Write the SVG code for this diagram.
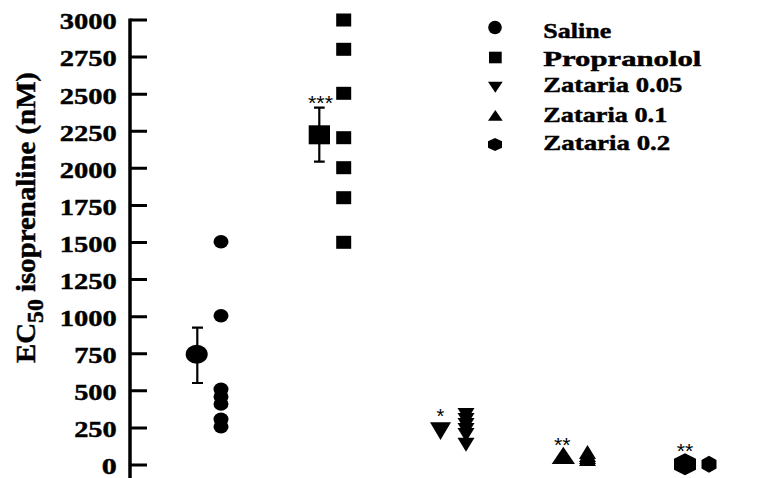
<svg xmlns="http://www.w3.org/2000/svg" width="760" height="478" viewBox="0 0 760 478">
<style>
.t{font-family:"Liberation Serif","Times New Roman",serif;font-weight:bold;fill:#000;stroke:#000;stroke-width:0.45}
.tick{font-size:24px;text-anchor:end}
.leg{font-size:22px}
.star{font-family:"Liberation Sans",Arial,sans-serif;font-size:20px;text-anchor:middle;fill:#000}
.ax{stroke:#000;stroke-width:3.5;fill:none}
.tk{stroke:#000;stroke-width:3;fill:none}
.eb{stroke:#000;stroke-width:2.2;fill:none}
.m{fill:#000;stroke:none}
</style>
<rect width="760" height="478" fill="#fff"/>
<g id="axis">
<line class="ax" x1="130" y1="18.5" x2="130" y2="478"/>
<path class="tk" d="M130 20H147M130 57.1H147M130 94.2H147M130 131.25H147M130 168.3H147M130 205.4H147M130 242.5H147M130 279.6H147M130 316.7H147M130 353.75H147M130 390.8H147M130 427.9H147M130 465H147"/>
</g>
<g id="tick-labels" class="t tick">
<text x="116.7" y="29.3" textLength="57" lengthAdjust="spacingAndGlyphs">3000</text>
<text x="116.7" y="66.4" textLength="57" lengthAdjust="spacingAndGlyphs">2750</text>
<text x="116.7" y="103.5" textLength="57" lengthAdjust="spacingAndGlyphs">2500</text>
<text x="116.7" y="140.5" textLength="57" lengthAdjust="spacingAndGlyphs">2250</text>
<text x="116.7" y="177.6" textLength="57" lengthAdjust="spacingAndGlyphs">2000</text>
<text x="116.7" y="214.7" textLength="57" lengthAdjust="spacingAndGlyphs">1750</text>
<text x="116.7" y="251.8" textLength="57" lengthAdjust="spacingAndGlyphs">1500</text>
<text x="116.7" y="288.9" textLength="57" lengthAdjust="spacingAndGlyphs">1250</text>
<text x="116.7" y="326" textLength="57" lengthAdjust="spacingAndGlyphs">1000</text>
<text x="116.7" y="363" textLength="42.5" lengthAdjust="spacingAndGlyphs">750</text>
<text x="116.7" y="400.1" textLength="42.5" lengthAdjust="spacingAndGlyphs">500</text>
<text x="116.7" y="437.2" textLength="42.5" lengthAdjust="spacingAndGlyphs">250</text>
<text x="116.7" y="474.3" textLength="15" lengthAdjust="spacingAndGlyphs">0</text>
</g>
<g id="y-label">
<text class="t" transform="translate(35,363) rotate(-90)" font-size="28" textLength="291" lengthAdjust="spacingAndGlyphs">EC<tspan dy="8" font-size="23">50</tspan><tspan dy="-8"> isoprenaline (nM)</tspan></text>
</g>
<g id="saline">
<path class="eb" d="M197.3 327.7V383M192 327.7H203M192 383H203"/>
<ellipse class="m" cx="196.7" cy="354.3" rx="11" ry="9.5"/>
<ellipse class="m" cx="221" cy="241.7" rx="7.5" ry="6.7"/>
<ellipse class="m" cx="221" cy="315.7" rx="7.5" ry="6.7"/>
<ellipse class="m" cx="221" cy="389.3" rx="7.5" ry="6.7"/>
<ellipse class="m" cx="221" cy="396.7" rx="7.5" ry="6.7"/>
<ellipse class="m" cx="221" cy="404" rx="7.5" ry="6.7"/>
<ellipse class="m" cx="221" cy="419.3" rx="7.5" ry="6.7"/>
<ellipse class="m" cx="221" cy="426.7" rx="7.5" ry="6.7"/>
</g>
<g id="propranolol">
<path class="eb" d="M319.3 107.7V161.7M314 107.7H324.7M314 161.7H324.7"/>
<rect class="m" x="308.7" y="125.3" width="21.3" height="19"/>
<text class="star" x="320.5" y="109.5" textLength="25" lengthAdjust="spacingAndGlyphs">***</text>
<rect class="m" x="336.2" y="13.5" width="15" height="13"/>
<rect class="m" x="336.2" y="42.8" width="15" height="13"/>
<rect class="m" x="336.2" y="86.8" width="15" height="13"/>
<rect class="m" x="336.2" y="131.2" width="15" height="13"/>
<rect class="m" x="336.2" y="161.2" width="15" height="13"/>
<rect class="m" x="336.2" y="191.2" width="15" height="13"/>
<rect class="m" x="336.2" y="235.8" width="15" height="13"/>
</g>
<g id="zataria-005">
<polygon class="m" points="430,422.3 451,422.3 440.5,440"/>
<text class="star" x="440.5" y="423">*</text>
<polygon class="m" points="457.5,408 474.5,408 466,422"/>
<polygon class="m" points="457.5,413 474.5,413 466,427"/>
<polygon class="m" points="457.5,418 474.5,418 466,432"/>
<polygon class="m" points="457.5,423 474.5,423 466,437"/>
<polygon class="m" points="457.5,428 474.5,428 466,442"/>
<polygon class="m" points="457.5,437.7 474.5,437.7 466,451.7"/>
</g>
<g id="zataria-01">
<polygon class="m" points="551.7,464 575,464 563.3,446.7"/>
<text class="star" x="562.3" y="451.5" textLength="16.5" lengthAdjust="spacingAndGlyphs">**</text>
<polygon class="m" points="579,459 596,459 587.5,445"/>
<polygon class="m" points="579,462 596,462 587.5,448"/>
<polygon class="m" points="579,464 596,464 587.5,450"/>
<polygon class="m" points="579,466 596,466 587.5,452"/>
</g>
<g id="zataria-02">
<polygon class="m" points="685,453.2 696,458.7 696,469.7 685,475.2 674,469.7 674,458.7"/>
<text class="star" x="685" y="458" textLength="16.5" lengthAdjust="spacingAndGlyphs">**</text>
<polygon class="m" points="709,455.8 716.5,460 716.5,468.5 709,472.8 701.5,468.5 701.5,460"/>
</g>
<g id="legend">
<circle class="m" cx="495" cy="27.5" r="6.8"/>
<rect class="m" x="489" y="51.7" width="12.7" height="11.6"/>
<polygon class="m" points="488,81.7 502.7,81.7 495.3,92.7"/>
<polygon class="m" points="488,120.7 502.7,120.7 495.3,110"/>
<polygon class="m" points="495,138 502,141.3 502,147.7 495,151 488,147.7 488,141.3"/>
<g class="t leg">
<text x="543.3" y="37.5" textLength="68" lengthAdjust="spacingAndGlyphs">Saline</text>
<text x="543.3" y="65.5" textLength="158" lengthAdjust="spacingAndGlyphs">Propranolol</text>
<text x="543.3" y="92.3" textLength="139" lengthAdjust="spacingAndGlyphs">Zataria 0.05</text>
<text x="543.3" y="121.5" textLength="124" lengthAdjust="spacingAndGlyphs">Zataria 0.1</text>
<text x="543.3" y="150.3" textLength="127" lengthAdjust="spacingAndGlyphs">Zataria 0.2</text>
</g>
</g>
</svg>
